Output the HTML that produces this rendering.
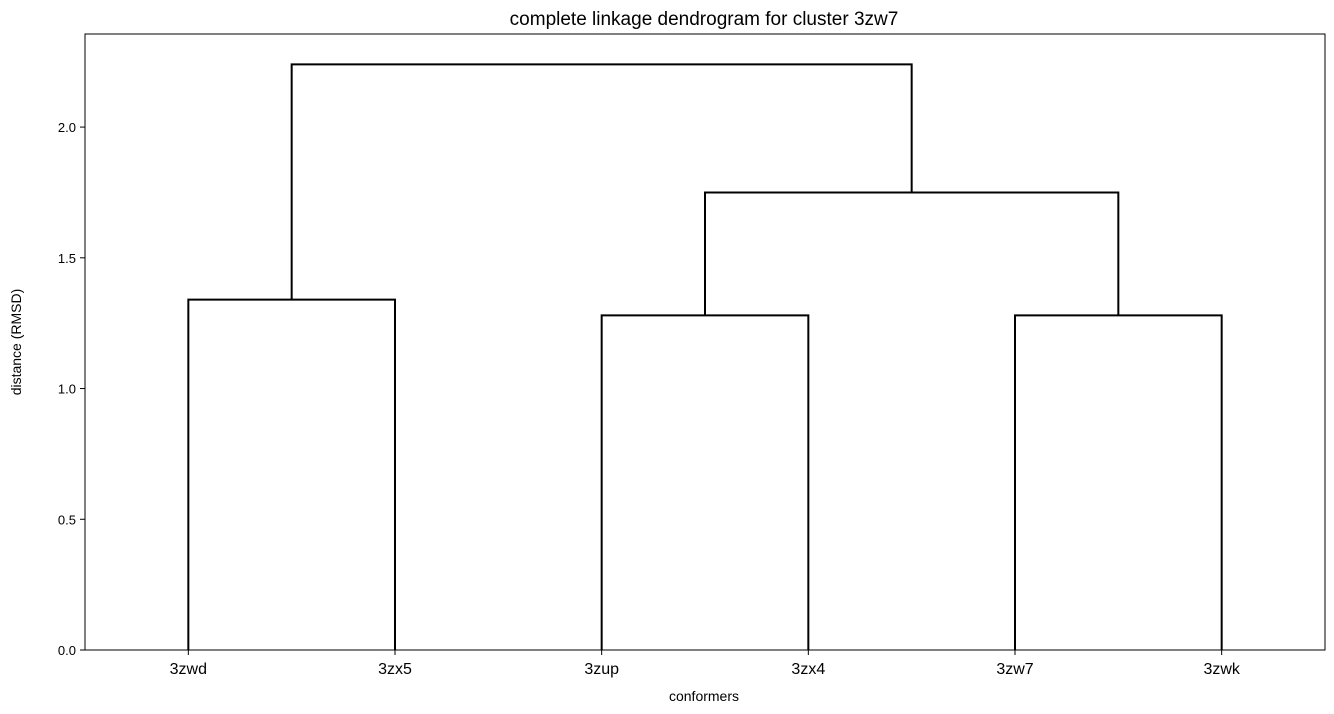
<!DOCTYPE html>
<html><head><meta charset="utf-8"><style>
body{margin:0;background:#fff;}
svg{display:block;font-family:"Liberation Sans","DejaVu Sans",sans-serif;}
</style></head><body>
<svg id="chart" width="1334" height="714">
<text x="704" y="25" font-size="19" text-anchor="middle">complete linkage dendrogram for cluster 3zw7</text>
<text x="704" y="701" font-size="14" text-anchor="middle">conformers</text>
<text transform="translate(21,342) rotate(-90)" font-size="14" text-anchor="middle">distance (RMSD)</text>
<g id="marks"></g>
<rect x="85" y="34" width="1240" height="616" fill="none" stroke="#000" stroke-width="1"/>
</svg>
<script>
const leaves = ["3zwd","3zx5","3zup","3zx4","3zw7","3zwk"];
const yTicks = [0.0,0.5,1.0,1.5,2.0];
// links: left x (scipy units), right x, left child height, right child height, merge height
const linkLeftX = [5,25,45,30,10];
const linkRightX = [15,35,55,50,40];
const linkLeftH = [0,0,0,1.28,1.34];
const linkRightH = [0,0,0,1.28,1.75];
const linkHeights = [1.34,1.28,1.28,1.75,2.24];

const X0=85,X1=1325,Y0=650,Y1=34,xMax=60,yMax=2.356;
const xs=v=>X0+v/xMax*(X1-X0);
const ys=v=>Y0-v/yMax*(Y0-Y1);
const NS="http://www.w3.org/2000/svg";
const svg=document.getElementById('chart');
const g=document.getElementById('marks');
function mk(tag,attrs,parent){const e=document.createElementNS(NS,tag);for(const k in attrs)e.setAttribute(k,attrs[k]);parent.appendChild(e);return e;}

yTicks.forEach((t,i)=>{
  const y=ys(t);
  const l=mk('line',{x1:X0-5,x2:X0,y1:y,y2:y,stroke:'#000'},svg);
  
  
  const tx=mk('text',{x:X0-9,y:y+5,'font-size':13,'text-anchor':'end'},svg);
  tx.textContent=t.toFixed(1);
  
  
});
leaves.forEach((n,i)=>{
  const x=xs(5+10*i);
  const l=mk('line',{x1:x,x2:x,y1:Y0,y2:Y0+5,stroke:'#000'},svg);
  
  
  const tx=mk('text',{x:x,y:Y0+24,'font-size':16,'text-anchor':'middle'},svg);
  tx.textContent=n;
  
  
});
linkHeights.forEach((h,i)=>{
  const a=xs(linkLeftX[i]),b=xs(linkRightX[i]);
  const d=`M${a},${ys(linkLeftH[i])}V${ys(h)}H${b}V${ys(linkRightH[i])}`;
  const p=mk('path',{d:d,fill:'none',stroke:'#000','stroke-width':2},g);
  
  
});
</script>
</body></html>
